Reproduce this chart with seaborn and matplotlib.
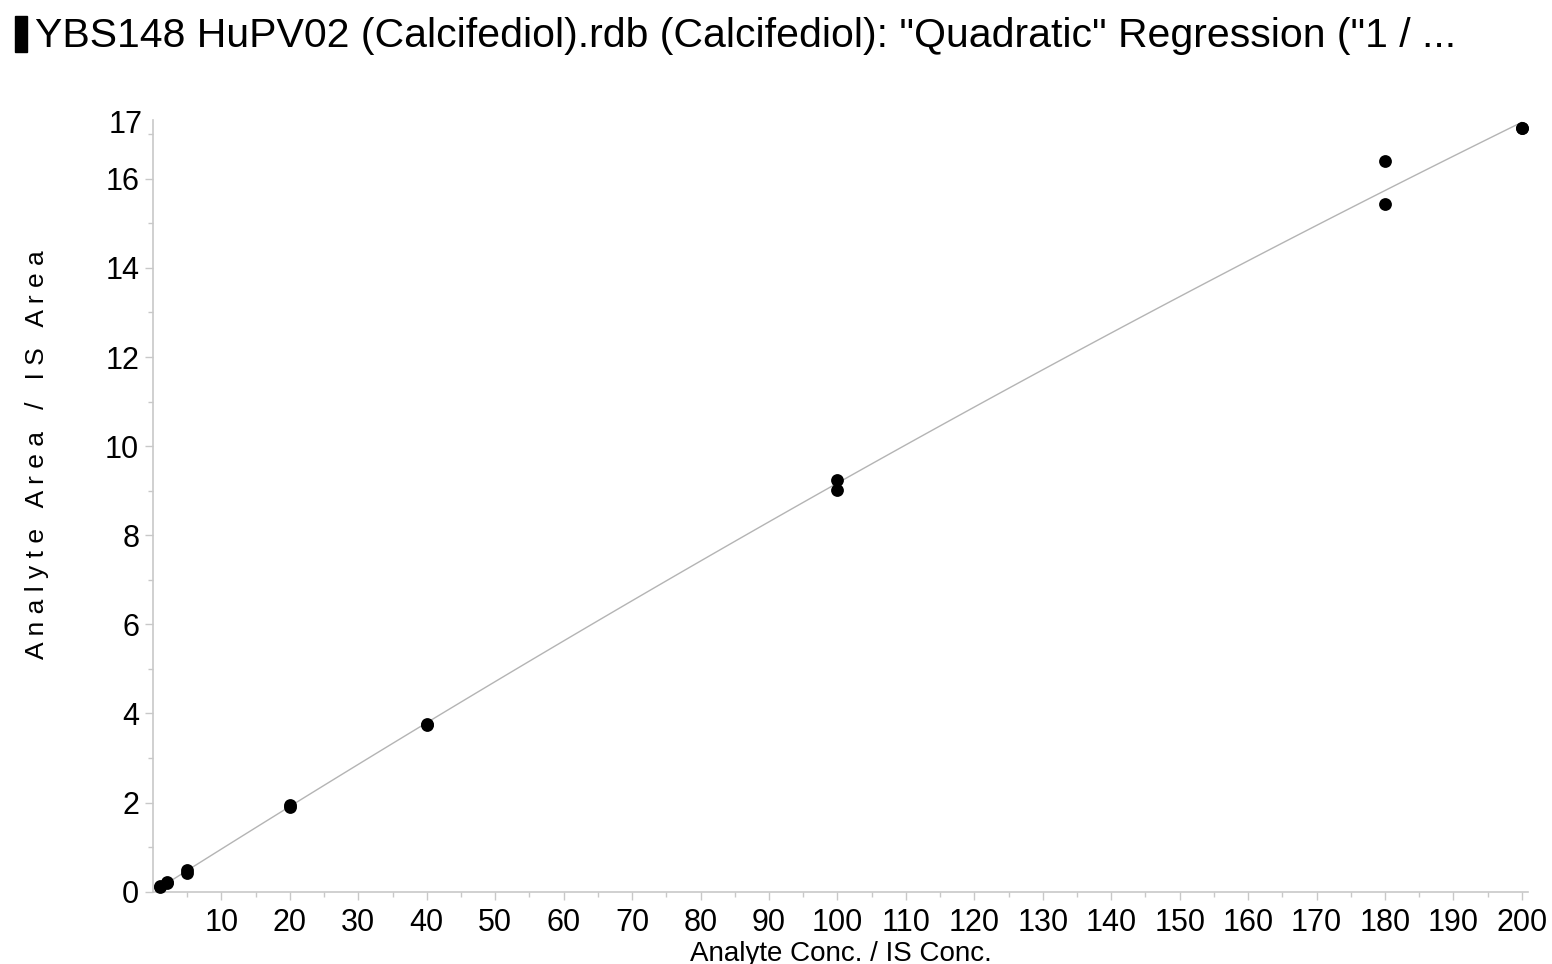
import matplotlib
matplotlib.use("Agg")
import matplotlib.pyplot as plt
import matplotlib.transforms as mtransforms
import seaborn as sns
import pandas as pd
from matplotlib.patches import Rectangle

# ── Data ─────────────────────────────────────────────────────────────────────
CONC = [1, 1, 2, 2, 5, 5, 20, 20, 40, 40, 100, 100, 180, 180, 200, 200]
AREA_RATIO = [0.11, 0.13, 0.20, 0.21, 0.48, 0.42, 1.95, 1.90,
              3.77, 3.74, 9.25, 9.01, 16.40, 15.43, 17.15, 17.13]
X_TICKS = list(range(10, 201, 10))
Y_TICKS = list(range(0, 17, 2))
TITLE = 'YBS148 HuPV02 (Calcifediol).rdb (Calcifediol): "Quadratic" Regression ("1 / ...'
X_LABEL = "Analyte Conc. / IS Conc."
Y_LABEL = "Analyte Area / IS Area"

df = pd.DataFrame({"conc": CONC, "ratio": AREA_RATIO})

sns.set_theme(style="ticks")
plt.rcParams["font.family"] = ["Liberation Sans", "DejaVu Sans"]
plt.rcParams["text.color"] = "black"
plt.rcParams["axes.labelcolor"] = "black"

fig = plt.figure(figsize=(15.52, 9.64), dpi=100)
ax = fig.add_axes([0.0986, 0.075, 0.886, 0.8005])

spine_grey = "#c8c8c8"

sns.regplot(
    data=df, x="conc", y="ratio", order=2, ci=None, ax=ax,
    scatter_kws={"s": 85, "color": "black", "alpha": 1, "zorder": 3,
                 "clip_on": False, "linewidths": 0},
    line_kws={"color": "#b4b4b4", "lw": 1.0, "zorder": 1},
)

ax.set_xlim(0, 200.9)
ax.set_ylim(0, 17.32)

ax.set_xticks(X_TICKS)
ax.set_xticks(range(5, 201, 10), minor=True)
ax.set_yticks(Y_TICKS)
odd = list(range(1, 18, 2))
ax.set_yticks(odd, labels=["17" if v == 17 else "" for v in odd], minor=True)

ax.tick_params(axis="both", which="major", length=6, width=1, color=spine_grey,
               labelsize=22, labelcolor="black")
ax.tick_params(axis="both", which="minor", length=3.5, width=1, color=spine_grey,
               labelsize=22, labelcolor="black")
ax.tick_params(axis="x", which="both", pad=6)
ax.tick_params(axis="y", which="both", pad=4)

# the "17" label sits a little above its tick in the reference
shift_up = mtransforms.ScaledTranslation(0, 13 / 100, fig.dpi_scale_trans)
for lbl in ax.get_yticklabels(minor=True):
    lbl.set_transform(lbl.get_transform() + shift_up)

for side in ["top", "right"]:
    ax.spines[side].set_visible(False)
for side in ["left", "bottom"]:
    ax.spines[side].set_color(spine_grey)
    ax.spines[side].set_linewidth(1.2)

ax.set_xlabel(X_LABEL, fontsize=20, labelpad=0)
ax.xaxis.set_label_coords(0.5, -0.064)
ax.set_ylabel(" ".join(Y_LABEL), fontsize=19)
ax.yaxis.set_label_coords(-0.076, 0.566)

# title with the dark marker bar on the left
fig.patches.append(Rectangle((15 / 1552, 1 - 52 / 964), 12 / 1552, 36 / 964,
                             transform=fig.transFigure, color="black"))
fig.text(35 / 1552, 1 - 36 / 964, TITLE, fontsize=29.5, va="center", ha="left")

fig.savefig("out.png", dpi=100)
